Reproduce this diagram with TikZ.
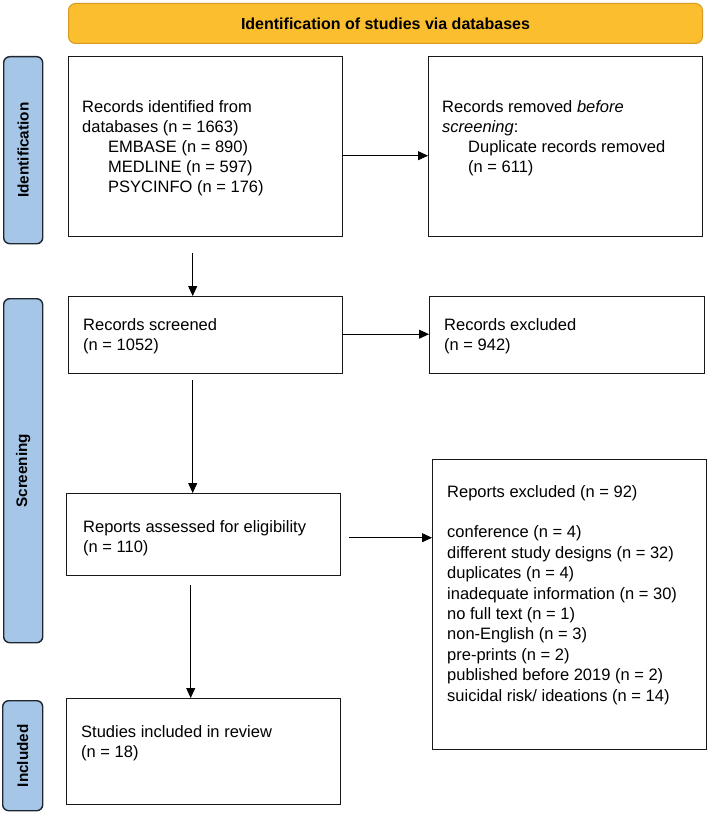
\documentclass[tikz,border=0pt]{standalone}
\usepackage{fontspec}
\setmainfont{Liberation Sans}
\usetikzlibrary{arrows.meta,calc}
\definecolor{bannerfill}{HTML}{FBBE2E}
\definecolor{bannerline}{HTML}{D99A22}
\definecolor{sidefill}{HTML}{A6C6E8}
\definecolor{sideline}{HTML}{1E2630}
\newcommand{\boxlines}[1]{\begin{tabular}[t]{@{}l@{}}#1\end{tabular}}
\tikzset{
  box/.style={draw=black!90, line width=1.4pt, fill=white, rectangle, anchor=north west, inner sep=0pt},
  side/.style={draw=sideline, fill=sidefill, rounded corners=6pt, line width=1.4pt, rectangle, anchor=north west, inner sep=0pt},
  lbl/.style={font=\fontsize{15.3}{18}\selectfont\bfseries, rotate=90, inner sep=0pt},
  txt/.style={anchor=base west, inner sep=0pt, font=\fontsize{16.5}{20}\selectfont},
  arr/.style={-{Triangle[length=10pt,width=9pt]}, line width=0.9pt, draw=black}
}
\begin{document}
\begin{tikzpicture}[x=1pt,y=-1pt]
\useasboundingbox (0,0) rectangle (708,813);

% banner
\node[draw=bannerline, fill=bannerfill, line width=1pt, rounded corners=7pt, anchor=north west,
      minimum width=634pt, minimum height=40pt, inner sep=0pt] (ban) at (68,3) {};
\node[font=\fontsize{16}{19}\selectfont\bfseries, inner sep=0pt] (bant) at (ban.center) {Identification of studies via databases};

% side bars
\node[side, minimum width=39pt, minimum height=187pt] (s1) at (3,56) {};
\node[lbl] (l1) at (s1.center) {Identification};
\node[side, minimum width=39pt, minimum height=344pt] (s2) at (3,298) {};
\node[lbl] (l2) at (s2.center) {Screening};
\node[side, minimum width=40pt, minimum height=110pt] (s3) at (2,700) {};
\node[lbl] (l3) at (s3.center) {Included};

% boxes
\node[box, minimum width=274pt, minimum height=180pt] (b1) at (68,56) {};
\node[box, minimum width=274pt, minimum height=180pt] (b2) at (428,56) {};
\node[box, minimum width=274pt, minimum height=77pt] (sc) at (68,296) {};
\node[box, minimum width=275pt, minimum height=77pt] (ex) at (429,296) {};
\node[box, minimum width=274pt, minimum height=82pt] (as) at (66,493) {};
\node[box, minimum width=274pt, minimum height=290pt] (rex) at (432,459) {};
\node[box, minimum width=274pt, minimum height=106pt] (st) at (66,698) {};

% texts
\node[txt] (t1) at (82,113) {\boxlines{Records identified from\\ databases (n = 1663)\\ \hspace*{26pt}EMBASE (n = 890)\\ \hspace*{26pt}MEDLINE (n = 597)\\ \hspace*{26pt}PSYCINFO (n = 176)}};
\node[txt] (t2) at (442,113) {\boxlines{Records removed \textit{before}\\ \textit{screening}:\\ \hspace*{26pt}Duplicate records removed\\ \hspace*{26pt}(n = 611)}};
\node[txt] (t3) at (83,330) {\boxlines{Records screened\\ (n = 1052)}};
\node[txt] (t4) at (444,330) {\boxlines{Records excluded\\ (n = 942)}};
\node[txt] (t5) at (83,532) {\boxlines{Reports assessed for eligibility\\ (n = 110)}};
\node[txt, font=\fontsize{16.5}{20.4}\selectfont] (t6) at (447,497) {\boxlines{Reports excluded (n = 92)\\ \\ conference (n = 4)\\ different study designs (n = 32)\\ duplicates (n = 4)\\ inadequate information (n = 30)\\ no full text (n = 1)\\ non-English (n = 3)\\ pre-prints (n = 2)\\ published before 2019 (n = 2)\\ suicidal risk/ ideations (n = 14)}};
\node[txt] (t7) at (81,737) {\boxlines{Studies included in review\\ (n = 18)}};

% arrows
\draw[arr] ([yshift=-9pt]b1.east) -- ([yshift=-9pt]b2.west);
\draw[arr] ([xshift=-13pt,yshift=-16pt]b1.south) coordinate (a2s) -- (a2s |- sc.north);
\draw[arr] ([yshift=1pt]sc.east) coordinate (a3s) -- (a3s -| ex.west);
\draw[arr] ([xshift=-13pt,yshift=-6pt]sc.south) coordinate (a4s) -- (a4s |- as.north);
\draw[arr] ([xshift=8pt,yshift=-3pt]as.east) coordinate (a5s) -- (a5s -| rex.west);
\draw[arr] ([xshift=-13pt,yshift=-9pt]as.south) coordinate (a6s) -- (a6s |- st.north);
\end{tikzpicture}
\end{document}
